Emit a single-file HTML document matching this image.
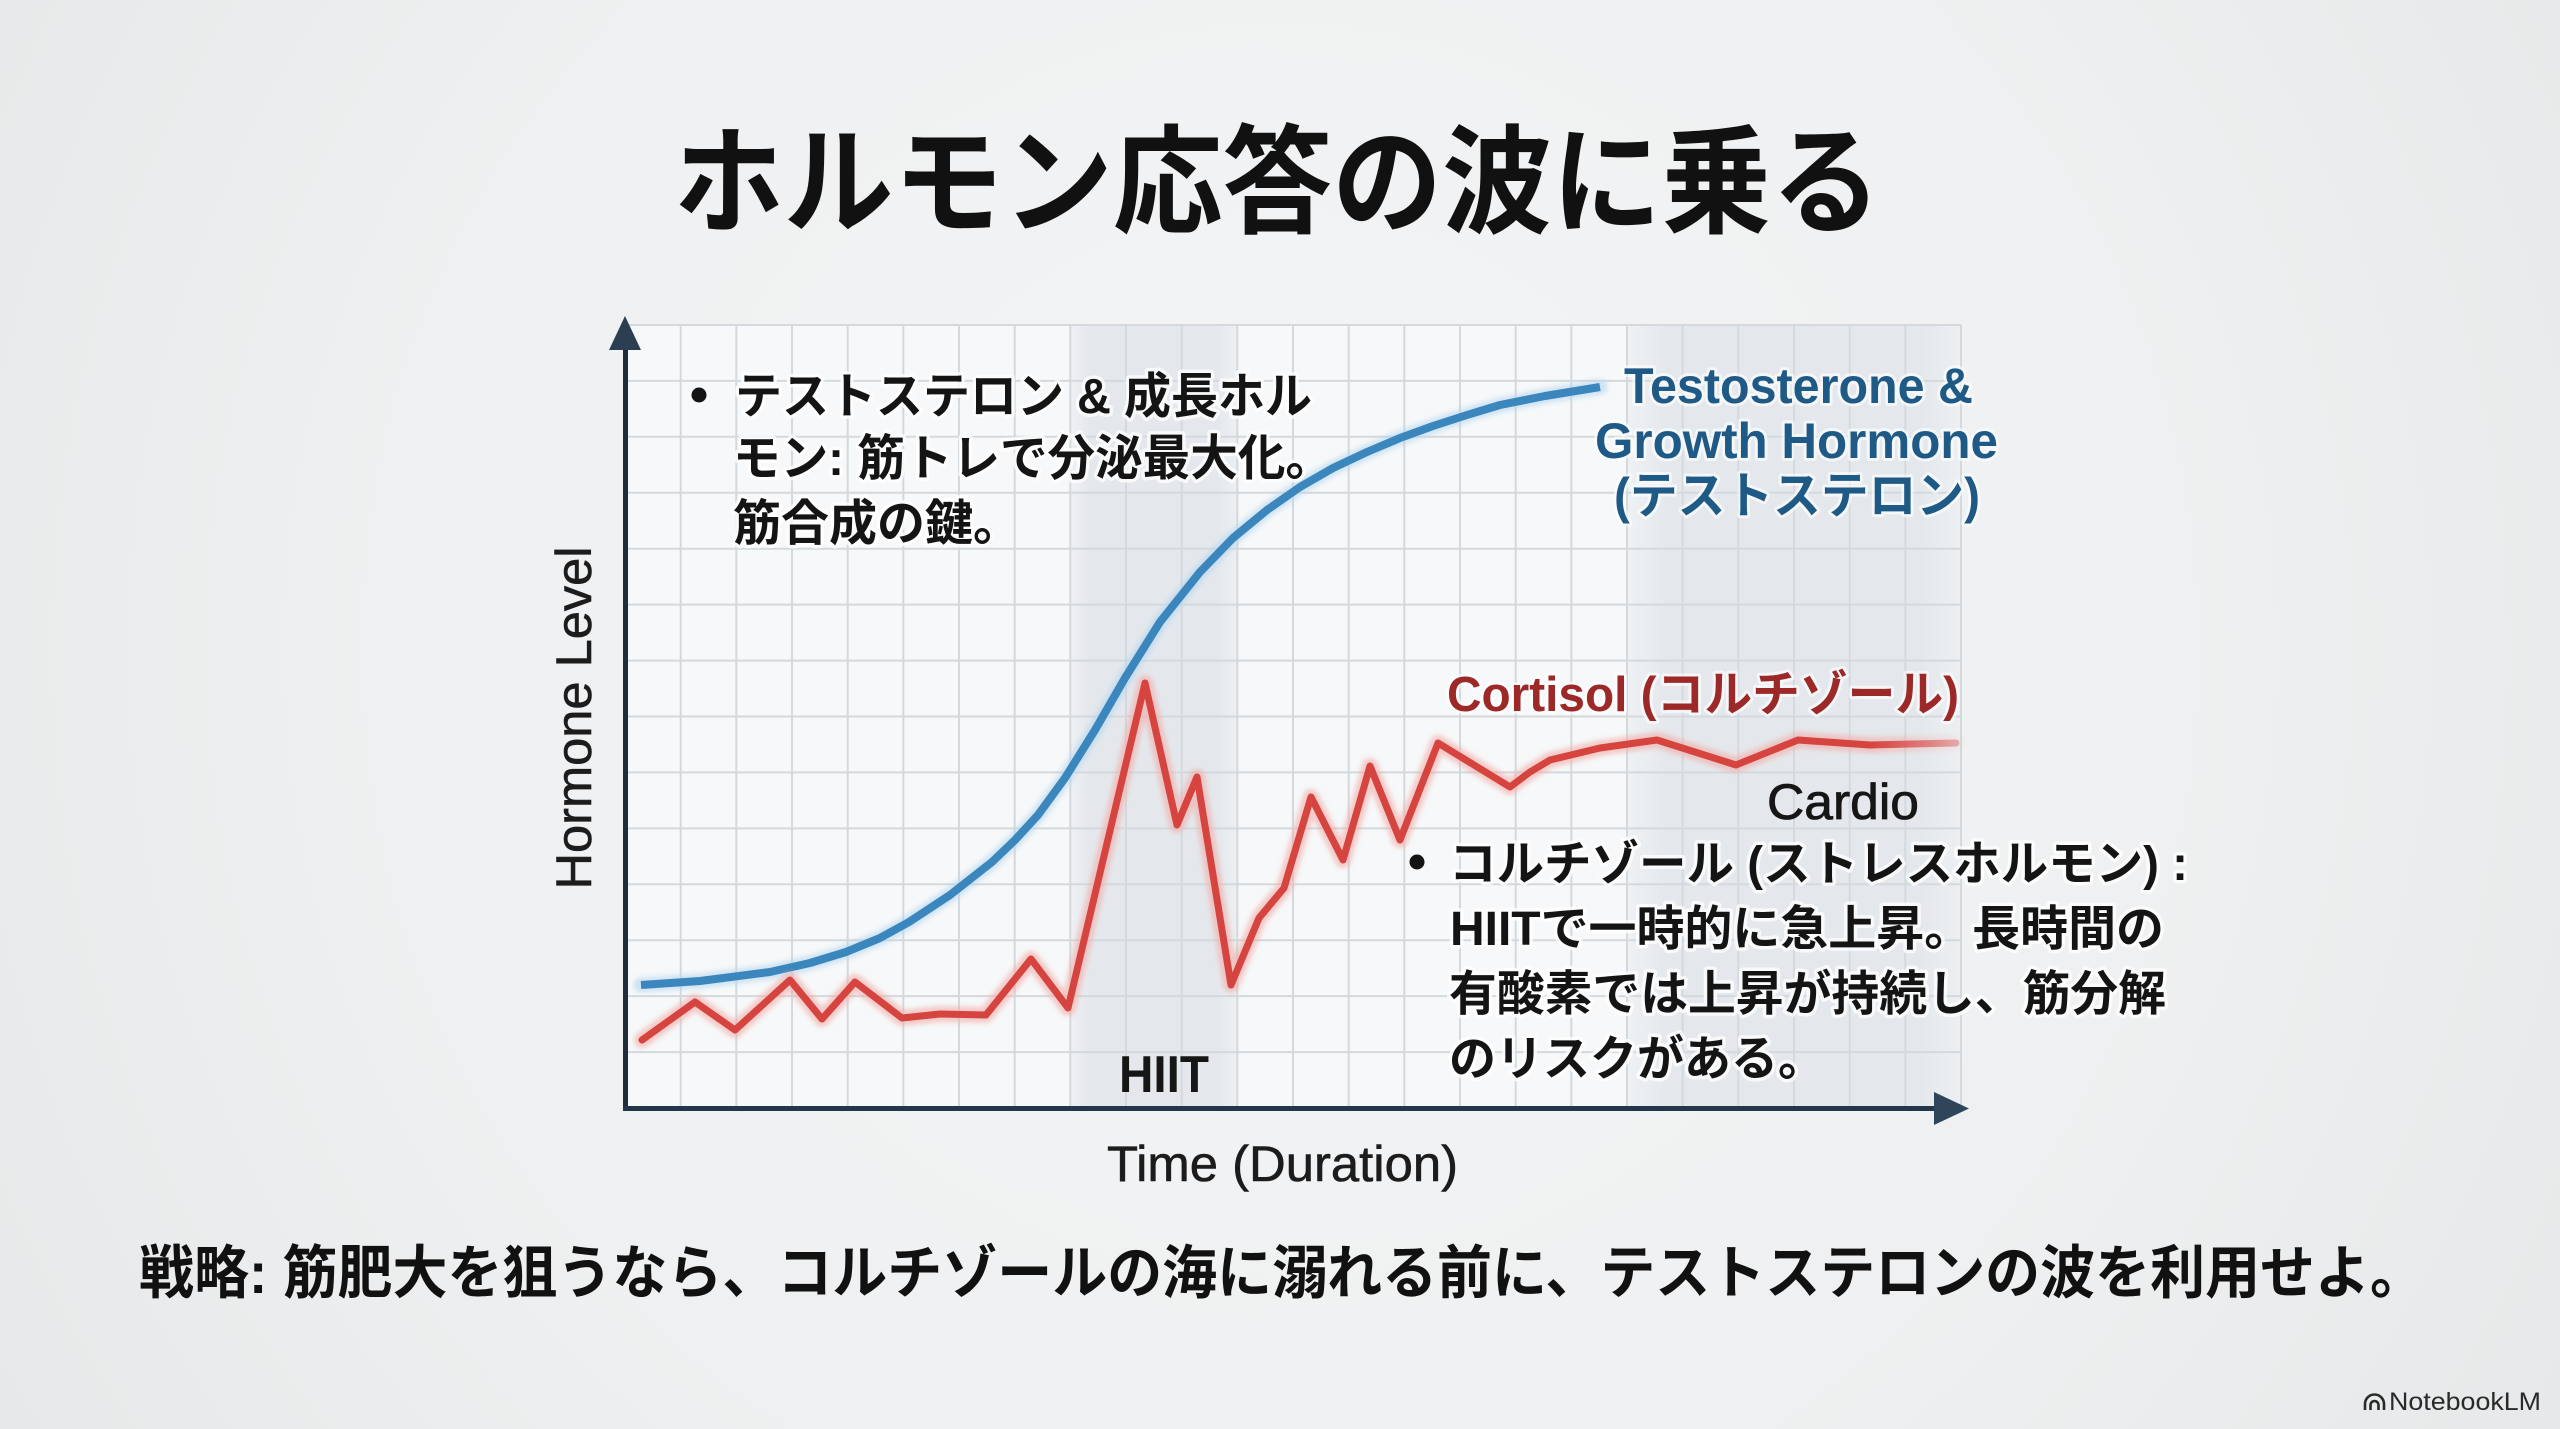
<!DOCTYPE html>
<html>
<head>
<meta charset="utf-8">
<style>
html,body{margin:0;padding:0;width:2560px;height:1429px;overflow:hidden;background:#eef0f1}
svg{display:block}
text{font-family:"Liberation Sans","Noto Sans CJK JP",sans-serif}
</style>
</head>
<body>
<svg width="2560" height="1429" viewBox="0 0 2560 1429" xmlns="http://www.w3.org/2000/svg">
<defs>
  <radialGradient id="bg" cx="1280" cy="650" r="1500" gradientUnits="userSpaceOnUse">
    <stop offset="0" stop-color="#f4f5f6"/>
    <stop offset="0.6" stop-color="#eef0f1"/>
    <stop offset="1" stop-color="#e6e8e9"/>
  </radialGradient>
  <linearGradient id="band" x1="0" y1="0" x2="1" y2="0">
    <stop offset="0" stop-color="#e4e8ec" stop-opacity="0.4"/>
    <stop offset="0.12" stop-color="#e4e8ec" stop-opacity="1"/>
    <stop offset="0.88" stop-color="#e4e8ec" stop-opacity="1"/>
    <stop offset="1" stop-color="#e4e8ec" stop-opacity="0.5"/>
  </linearGradient>
  <linearGradient id="redfade" x1="1870" y1="0" x2="1962" y2="0" gradientUnits="userSpaceOnUse">
    <stop offset="0" stop-color="#d6443f" stop-opacity="1"/>
    <stop offset="1" stop-color="#d6443f" stop-opacity="0.35"/>
  </linearGradient>
  <linearGradient id="redglow" x1="1870" y1="0" x2="1962" y2="0" gradientUnits="userSpaceOnUse">
    <stop offset="0" stop-color="#f2aaa6" stop-opacity="0.6"/>
    <stop offset="1" stop-color="#f2aaa6" stop-opacity="0.1"/>
  </linearGradient>
  <filter id="soft" x="-5%" y="-5%" width="110%" height="110%">
    <feGaussianBlur stdDeviation="2.5"/>
  </filter>
</defs>

<!-- background -->
<rect x="0" y="0" width="2560" height="1429" fill="url(#bg)"/>

<!-- plot area -->
<rect x="625" y="325" width="1336" height="783" fill="#f6f8f9"/>
<rect x="1070" y="325" width="167" height="783" fill="url(#band)"/>
<rect x="1627" y="325" width="334" height="783" fill="url(#band)"/>

<!-- grid -->
<path fill="none" stroke="#d3d9dd" stroke-width="2" d="
M680.7,325V1108 M736.3,325V1108 M792,325V1108 M847.7,325V1108 M903.3,325V1108 M959,325V1108
M1014.7,325V1108 M1070.3,325V1108 M1126,325V1108 M1181.7,325V1108 M1237.3,325V1108 M1293,325V1108
M1348.7,325V1108 M1404.3,325V1108 M1460,325V1108 M1515.7,325V1108 M1571.3,325V1108 M1627,325V1108
M1682.7,325V1108 M1738.3,325V1108 M1794,325V1108 M1849.7,325V1108 M1905.3,325V1108 M1961,325V1108
M625,1052.1H1961 M625,996.1H1961 M625,940.2H1961 M625,884.3H1961 M625,828.4H1961 M625,772.4H1961
M625,716.5H1961 M625,660.6H1961 M625,604.6H1961 M625,548.7H1961 M625,492.8H1961 M625,436.8H1961
M625,380.9H1961 M625,325H1961"/>

<!-- axes -->
<line x1="625.5" y1="345" x2="625.5" y2="1111" stroke="#1f2d3a" stroke-width="5"/>
<line x1="623" y1="1108.5" x2="1938" y2="1108.5" stroke="#24364a" stroke-width="5"/>
<polygon points="625,316 641,350 609,350" fill="#2c3f52"/>
<polygon points="1969,1108.5 1934,1092 1934,1125" fill="#2f4559"/>

<!-- blue curve -->
<polyline fill="none" stroke="#b4d6ee" stroke-opacity="0.6" stroke-width="15" stroke-linejoin="round" stroke-linecap="round" filter="url(#soft)"
points="641,985 700,981 770,972 810,963 846,952 880,938 909,922 950,895 992,862 1015,840 1038,815 1065,778 1095,730 1125,678 1160,622 1200,572 1233,538 1267,510 1300,487 1333,468 1367,452 1400,438 1433,426 1467,415 1500,405 1545,396 1600,387"/>
<polyline fill="none" stroke="#3a86bd" stroke-width="8" stroke-linejoin="round" stroke-linecap="butt"
points="641,985 700,981 770,972 810,963 846,952 880,938 909,922 950,895 992,862 1015,840 1038,815 1065,778 1095,730 1125,678 1160,622 1200,572 1233,538 1267,510 1300,487 1333,468 1367,452 1400,438 1433,426 1467,415 1500,405 1545,396 1600,387"/>

<!-- red curve -->
<polyline fill="none" stroke="url(#redglow)" stroke-width="16" stroke-linejoin="round" stroke-linecap="round" filter="url(#soft)"
points="642,1040 695,1002 735,1030 790,980 822,1019 855,982 902,1018 940,1014 986,1015 1031,959 1068,1008 1145,683 1177,825 1197,777 1231,985 1259,918 1284,888 1311,797 1343,860 1370,766 1400,840 1438,743 1510,787 1530,772 1550,760 1600,748 1657,740 1736,765 1798,740 1870,745 1956,743"/>
<polyline fill="none" stroke="url(#redfade)" stroke-width="7" stroke-linejoin="round" stroke-linecap="round"
points="642,1040 695,1002 735,1030 790,980 822,1019 855,982 902,1018 940,1014 986,1015 1031,959 1068,1008 1145,683 1177,825 1197,777 1231,985 1259,918 1284,888 1311,797 1343,860 1370,766 1400,840 1438,743 1510,787 1530,772 1550,760 1600,748 1657,740 1736,765 1798,740 1870,745 1956,743"/>

<!-- title -->
<text x="674" y="224" font-size="118" font-weight="700" fill="#111" textLength="1207" lengthAdjust="spacingAndGlyphs">ホルモン応答の波に乗る</text>

<!-- top-left annotation -->
<g font-size="49" font-weight="700" fill="#141414" stroke="#ffffff" stroke-opacity="0.75" stroke-width="7" stroke-linejoin="round" paint-order="stroke">
  <text x="735" y="413" textLength="577" lengthAdjust="spacingAndGlyphs">テストステロン &amp; 成長ホル</text>
  <text x="733" y="475" textLength="600" lengthAdjust="spacingAndGlyphs">モン: 筋トレで分泌最大化。</text>
  <text x="733" y="540" textLength="288" lengthAdjust="spacingAndGlyphs">筋合成の鍵。</text>
</g>
<circle cx="699" cy="395" r="7.5" fill="#141414"/>

<!-- blue label -->
<g font-size="50" font-weight="700" fill="#1f5a86" stroke="#ffffff" stroke-opacity="0.6" stroke-width="6" stroke-linejoin="round" paint-order="stroke">
  <text x="1624" y="403" textLength="349" lengthAdjust="spacingAndGlyphs">Testosterone &amp;</text>
  <text x="1595" y="458" textLength="403" lengthAdjust="spacingAndGlyphs">Growth Hormone</text>
  <text x="1614" y="513" textLength="366" lengthAdjust="spacingAndGlyphs">(テストステロン)</text>
</g>

<!-- cortisol label -->
<text x="1447" y="711" font-size="49" font-weight="700" fill="#9c2828" stroke="#ffffff" stroke-opacity="0.6" stroke-width="6" stroke-linejoin="round" paint-order="stroke" textLength="512" lengthAdjust="spacingAndGlyphs">Cortisol (コルチゾール)</text>

<!-- Cardio / HIIT -->
<text x="1767" y="819" font-size="50" fill="#161616" stroke="#161616" stroke-width="0.8" textLength="152" lengthAdjust="spacingAndGlyphs">Cardio</text>
<text x="1119" y="1092" font-size="52" font-weight="700" fill="#161616" textLength="90" lengthAdjust="spacingAndGlyphs">HIIT</text>

<!-- bottom-right annotation -->
<g font-size="48" font-weight="700" fill="#141414" stroke="#ffffff" stroke-opacity="0.75" stroke-width="7" stroke-linejoin="round" paint-order="stroke">
  <text x="1449" y="880" textLength="739" lengthAdjust="spacingAndGlyphs">コルチゾール (ストレスホルモン) :</text>
  <text x="1450" y="945" textLength="714" lengthAdjust="spacingAndGlyphs">HIITで一時的に急上昇。長時間の</text>
  <text x="1449" y="1010" textLength="717" lengthAdjust="spacingAndGlyphs">有酸素では上昇が持続し、筋分解</text>
  <text x="1449" y="1075" textLength="376" lengthAdjust="spacingAndGlyphs">のリスクがある。</text>
</g>
<circle cx="1417" cy="862" r="7.5" fill="#141414"/>

<!-- axis labels -->
<text x="1107" y="1181" font-size="50" fill="#1c1c1c" stroke="#1c1c1c" stroke-width="0.6" textLength="351" lengthAdjust="spacingAndGlyphs">Time (Duration)</text>
<text transform="translate(591,718) rotate(-90)" x="0" y="0" text-anchor="middle" font-size="50" fill="#1c1c1c" stroke="#1c1c1c" stroke-width="0.6" textLength="343" lengthAdjust="spacingAndGlyphs">Hormone Level</text>

<!-- bottom strategy text -->
<text x="139" y="1293" font-size="58" font-weight="700" fill="#111" textLength="2286" lengthAdjust="spacingAndGlyphs">戦略: 筋肥大を狙うなら、コルチゾールの海に溺れる前に、テストステロンの波を利用せよ。</text>

<!-- NotebookLM mark -->
<g fill="none" stroke="#2a2a2a" stroke-width="2.6">
  <path d="M2365,1410 v-6 a9.5,9.5 0 0 1 19,0 v6"/>
  <path d="M2370.5,1410 v-5 a4,4 0 0 1 8,0 v5"/>
</g>
<text x="2389" y="1410" font-size="25" fill="#2a2a2a" textLength="152" lengthAdjust="spacingAndGlyphs">NotebookLM</text>
</svg>
</body>
</html>
